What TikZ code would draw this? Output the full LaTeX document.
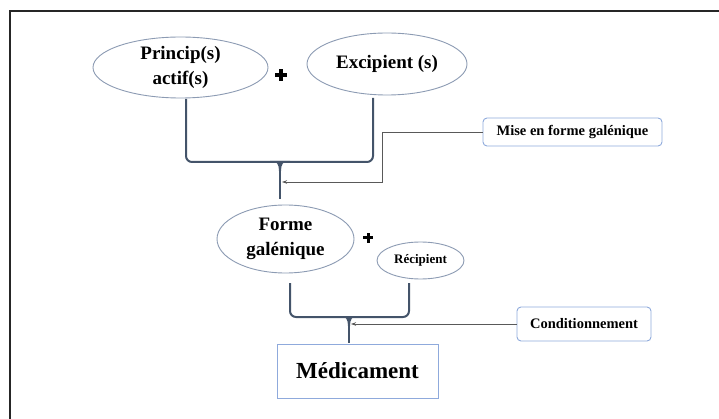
\documentclass[tikz,border=0pt]{standalone}
\usepackage{fontspec}
\setmainfont{Liberation Serif}
\usetikzlibrary{shapes.geometric,arrows.meta,calc}
\definecolor{brk}{HTML}{44546A}
\definecolor{ellb}{HTML}{8C9BB3}
\definecolor{boxb}{HTML}{8FAADC}
\definecolor{conn}{HTML}{595959}
\begin{document}
\begin{tikzpicture}[x=1pt,y=1pt,
  oval/.style={ellipse,draw=ellb,line width=0.9pt,fill=white,inner sep=0pt,align=center,font=\bfseries},
  labbox/.style={draw=boxb,line width=0.9pt,rounded corners=4pt,fill=white,inner sep=0pt,font=\bfseries},
  bracket/.style={draw=brk,line width=2pt,rounded corners=6pt},
  stemline/.style={draw=brk,line width=2pt},
  link/.style={draw=conn,line width=0.8pt,-{Stealth[length=5pt,width=3.5pt]}}]
\useasboundingbox (0,0) rectangle (719,-419);
% frame
\draw[line width=1.2pt,draw=black!85] (10,-11) rectangle (730,-430);
% nodes
\node[oval,minimum width=175,minimum height=61,font=\bfseries\fontsize{19}{25}\selectfont] (pa) at (180.5,-67.5) {Princip(s)\\actif(s)};
\node[oval,minimum width=160,minimum height=62,font=\bfseries\fontsize{19}{22}\selectfont] (ex) at (387,-64) {Excipient (s)};
\node[oval,minimum width=137,minimum height=68,font=\bfseries\fontsize{19}{25}\selectfont] (fg) at (285.5,-239) {Forme\\galénique};
\node[oval,minimum width=87,minimum height=37,font=\bfseries\fontsize{13}{15}\selectfont] (rec) at (420.5,-260.5) {Récipient};
\node[labbox,minimum width=179,minimum height=28,font=\bfseries\fontsize{14.5}{16}\selectfont] (mise) at (572.5,-132) {Mise en forme galénique};
\node[labbox,minimum width=134,minimum height=34,font=\bfseries\fontsize{14.5}{16}\selectfont] (cond) at (584,-324) {Conditionnement};
\node[draw=boxb,line width=1pt,fill=white,inner sep=0pt,minimum width=161,minimum height=54,font=\bfseries\fontsize{23}{26}\selectfont] (med) at (357.5,-371) {Médicament};
% plus signs
\fill[black] (275,-73.5) rectangle (287,-77.5);
\fill[black] (279,-69.5) rectangle (283,-81.5);
\fill[black] (363,-236.5) rectangle (373,-239.5);
\fill[black] (366.5,-233) rectangle (369.5,-243);
% bracket 1
\coordinate (j1) at (280,-162);
\coordinate (s1) at (280,-199);
\draw[bracket] (186,-99) |- (j1) -| (373,-98);
\draw[stemline] (j1) -- (s1);
\fill[brk] (270,-161) .. controls (277,-161) and (279,-164) .. (279,-171) -- (281,-171) .. controls (281,-164) and (283,-161) .. (290,-161) -- cycle;
% connector mise en forme
\coordinate (c1) at (382,-182);
\coordinate (a1) at (282,-182);
\draw[link] (mise.west) -| (c1) -- (a1);
% bracket 2
\coordinate (j2) at (349,-317);
\coordinate (s2) at (349,-343);
\draw[bracket] (290,-283) |- (j2) -| (409,-283);
\draw[stemline] (j2) -- (s2);
\fill[brk] (339,-316) .. controls (346,-316) and (348,-319) .. (348,-326) -- (350,-326) .. controls (350,-319) and (352,-316) .. (359,-316) -- cycle;
% connector conditionnement
\coordinate (a2) at (351,-324);
\draw[link] (cond.west) -- (a2);
\end{tikzpicture}
\end{document}
